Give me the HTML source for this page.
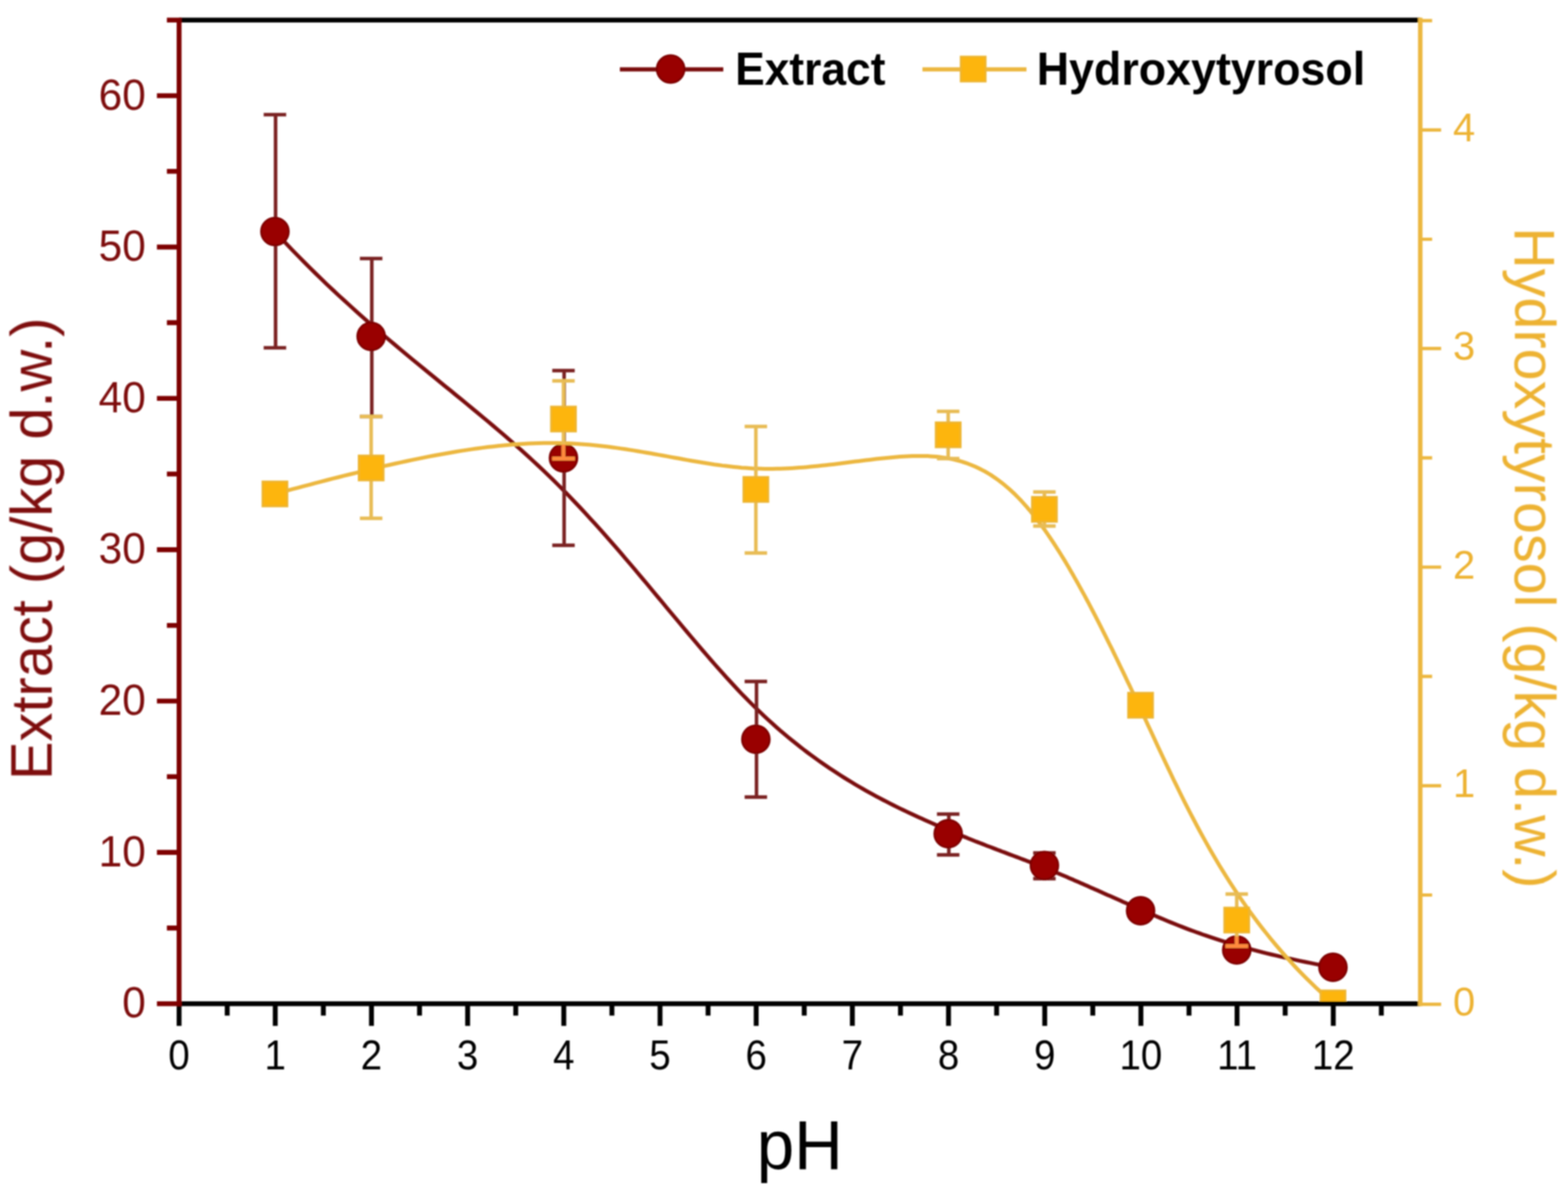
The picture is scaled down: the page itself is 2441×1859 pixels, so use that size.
<!DOCTYPE html><html><head><meta charset="utf-8"><title>pH chart</title><style>html,body{margin:0;padding:0;background:#fff;overflow:hidden}svg{display:block}text{font-family:"Liberation Sans",sans-serif}</style></head><body>
<svg width="2441" height="1859" viewBox="0 0 2441 1859">
<rect width="2441" height="1859" fill="#fff"/>
<defs><clipPath id="plot"><rect x="278.8" y="31.2" width="1932.2" height="1531.5"/></clipPath>
<filter id="soft" x="0" y="0" width="2441" height="1859" filterUnits="userSpaceOnUse"><feGaussianBlur stdDeviation="0.9"/></filter></defs>
<g filter="url(#soft)">
<g clip-path="url(#plot)">
<path d="M428.0,360.5 L437.0,370.2 L446.0,379.8 L455.0,389.3 L464.1,398.5 L473.1,407.7 L482.1,416.7 L491.1,425.5 L500.0,434.2 L509.0,442.8 L518.0,451.3 L526.9,459.6 L535.9,467.8 L544.8,475.9 L553.7,483.9 L562.6,491.9 L571.4,499.7 L580.3,507.4 L589.1,515.0 L597.9,522.5 L606.7,530.0 L615.5,537.4 L624.2,544.7 L632.9,552.0 L641.6,559.2 L650.2,566.3 L658.9,573.4 L667.4,580.4 L676.0,587.4 L684.5,594.4 L693.0,601.3 L701.5,608.2 L709.9,615.1 L718.3,621.9 L726.6,628.7 L734.9,635.6 L743.1,642.4 L751.3,649.2 L759.5,656.0 L767.6,662.9 L775.7,669.7 L783.7,676.6 L791.7,683.5 L799.6,690.4 L807.5,697.3 L815.3,704.3 L823.0,711.3 L830.7,718.4 L838.4,725.5 L846.0,732.6 L853.5,739.8 L861.0,747.1 L868.4,754.5 L875.8,761.9 L883.1,769.3 L890.3,776.8 L897.5,784.3 L904.6,791.9 L911.7,799.5 L918.7,807.2 L925.7,814.8 L932.7,822.5 L939.6,830.3 L946.4,838.0 L953.2,845.8 L960.0,853.5 L966.7,861.3 L973.3,869.1 L980.0,876.9 L986.6,884.6 L993.1,892.4 L999.7,900.2 L1006.2,907.9 L1012.6,915.6 L1019.0,923.3 L1025.4,931.0 L1031.8,938.7 L1038.1,946.3 L1044.4,953.9 L1050.7,961.4 L1057.0,968.9 L1063.2,976.4 L1069.4,983.8 L1075.6,991.1 L1081.8,998.4 L1087.9,1005.7 L1094.0,1012.8 L1100.2,1019.9 L1106.3,1027.0 L1112.3,1033.9 L1118.4,1040.8 L1124.5,1047.6 L1130.5,1054.3 L1136.6,1060.9 L1142.6,1067.4 L1148.6,1073.9 L1154.6,1080.2 L1160.7,1086.4 L1166.7,1092.5 L1172.7,1098.5 L1178.7,1104.4 L1184.7,1110.2 L1190.7,1115.9 L1196.7,1121.4 L1202.7,1126.8 L1208.7,1132.2 L1214.7,1137.4 L1220.7,1142.5 L1226.6,1147.5 L1232.6,1152.4 L1238.6,1157.2 L1244.5,1161.9 L1250.4,1166.5 L1256.3,1171.0 L1262.2,1175.4 L1268.1,1179.7 L1273.9,1183.9 L1279.8,1188.0 L1285.6,1192.0 L1291.4,1196.0 L1297.2,1199.8 L1302.9,1203.6 L1308.6,1207.3 L1314.3,1210.9 L1320.0,1214.4 L1325.6,1217.8 L1331.2,1221.2 L1336.8,1224.5 L1342.3,1227.7 L1347.8,1230.8 L1353.3,1233.9 L1358.8,1236.9 L1364.1,1239.8 L1369.5,1242.7 L1374.8,1245.5 L1380.1,1248.2 L1385.3,1250.9 L1390.5,1253.5 L1395.7,1256.1 L1400.8,1258.6 L1405.8,1261.0 L1410.8,1263.4 L1415.8,1265.7 L1420.7,1268.0 L1425.5,1270.3 L1430.3,1272.5 L1435.0,1274.6 L1439.7,1276.7 L1444.3,1278.7 L1448.9,1280.8 L1453.4,1282.7 L1457.9,1284.7 L1462.2,1286.6 L1466.6,1288.4 L1470.9,1290.2 L1475.1,1292.0 L1479.2,1293.8 L1483.4,1295.5 L1487.4,1297.2 L1491.4,1298.8 L1495.4,1300.5 L1499.3,1302.1 L1503.2,1303.6 L1507.0,1305.2 L1510.8,1306.7 L1514.5,1308.2 L1518.2,1309.7 L1521.9,1311.1 L1525.5,1312.5 L1529.1,1313.9 L1532.6,1315.3 L1536.1,1316.7 L1539.6,1318.0 L1543.1,1319.3 L1546.5,1320.6 L1549.8,1321.9 L1553.2,1323.2 L1556.5,1324.4 L1559.8,1325.7 L1563.1,1326.9 L1566.3,1328.1 L1569.5,1329.4 L1572.7,1330.6 L1575.9,1331.8 L1579.1,1333.0 L1582.2,1334.1 L1585.3,1335.3 L1588.4,1336.5 L1591.5,1337.7 L1594.6,1338.8 L1597.7,1340.0 L1600.7,1341.2 L1603.8,1342.3 L1606.8,1343.5 L1609.8,1344.7 L1612.8,1345.8 L1615.9,1347.0 L1618.9,1348.2 L1621.9,1349.4 L1624.9,1350.6 L1627.9,1351.8 L1630.9,1353.0 L1633.9,1354.2 L1636.9,1355.5 L1639.9,1356.7 L1642.9,1358.0 L1645.9,1359.2 L1649.0,1360.5 L1652.0,1361.8 L1655.0,1363.0 L1658.1,1364.3 L1661.1,1365.6 L1664.1,1366.9 L1667.2,1368.2 L1670.3,1369.6 L1673.3,1370.9 L1676.4,1372.2 L1679.5,1373.6 L1682.6,1374.9 L1685.7,1376.3 L1688.9,1377.7 L1692.0,1379.1 L1695.2,1380.5 L1698.3,1381.9 L1701.5,1383.3 L1704.7,1384.7 L1707.9,1386.1 L1711.1,1387.5 L1714.4,1389.0 L1717.6,1390.4 L1720.9,1391.9 L1724.2,1393.4 L1727.5,1394.8 L1730.9,1396.3 L1734.2,1397.8 L1737.6,1399.3 L1741.0,1400.8 L1744.4,1402.3 L1747.9,1403.9 L1751.4,1405.4 L1754.8,1407.0 L1758.4,1408.5 L1761.9,1410.1 L1765.5,1411.6 L1769.1,1413.2 L1772.7,1414.8 L1776.3,1416.4 L1780.0,1418.0 L1783.7,1419.6 L1787.4,1421.2 L1791.2,1422.9 L1795.0,1424.5 L1798.8,1426.1 L1802.7,1427.8 L1806.6,1429.4 L1810.6,1431.1 L1814.6,1432.8 L1818.7,1434.5 L1822.8,1436.1 L1826.9,1437.8 L1831.2,1439.5 L1835.5,1441.2 L1839.8,1442.9 L1844.2,1444.6 L1848.7,1446.4 L1853.3,1448.1 L1858.0,1449.8 L1862.7,1451.5 L1867.5,1453.2 L1872.4,1455.0 L1877.4,1456.7 L1882.5,1458.4 L1887.7,1460.1 L1893.0,1461.9 L1898.3,1463.6 L1903.8,1465.3 L1909.4,1467.1 L1915.1,1468.8 L1921.0,1470.5 L1926.9,1472.3 L1933.0,1474.0 L1939.2,1475.7 L1945.5,1477.4 L1951.9,1479.1 L1958.5,1480.9 L1965.2,1482.6 L1972.1,1484.3 L1979.0,1486.0 L1986.2,1487.7 L1993.5,1489.4 L2000.9,1491.1 L2008.5,1492.8 L2016.2,1494.4 L2024.1,1496.1 L2032.2,1497.8 L2040.4,1499.4 L2048.8,1501.1 L2057.4,1502.7 L2066.2,1504.4 L2075.1,1506.0" fill="none" stroke="#7A0A10" stroke-width="6.0"/>
<path d="M429.0,178.6 V541.4 M410.5,178.6 h35.0 M410.5,541.4 h35.0" stroke="#7A2424" stroke-width="5.5" fill="none"/>
<path d="M578.8,402.4 V648.6 M560.3,402.4 h35.0 M560.3,648.6 h35.0" stroke="#7A2424" stroke-width="5.5" fill="none"/>
<path d="M878.2,577 V849 M859.7,577 h35.0 M859.7,849 h35.0" stroke="#7A2424" stroke-width="5.5" fill="none"/>
<path d="M1177.7,1061 V1241 M1159.2,1061 h35.0 M1159.2,1241 h35.0" stroke="#7A2424" stroke-width="5.5" fill="none"/>
<path d="M1477.1,1267.6 V1331 M1458.6,1267.6 h35.0 M1458.6,1331 h35.0" stroke="#7A2424" stroke-width="5.5" fill="none"/>
<path d="M1626.9,1328 V1368 M1608.4,1328 h35.0 M1608.4,1368 h35.0" stroke="#7A2424" stroke-width="5.5" fill="none"/>
<circle cx="428.0" cy="360.5" r="21.5" fill="#990000" stroke="#7E0505" stroke-width="3"/>
<circle cx="577.8" cy="523.8" r="21.5" fill="#990000" stroke="#7E0505" stroke-width="3"/>
<circle cx="877.2" cy="712.9" r="21.5" fill="#990000" stroke="#7E0505" stroke-width="3"/>
<circle cx="1176.7" cy="1151" r="21.5" fill="#990000" stroke="#7E0505" stroke-width="3"/>
<circle cx="1476.1" cy="1298" r="21.5" fill="#990000" stroke="#7E0505" stroke-width="3"/>
<circle cx="1625.9" cy="1347.5" r="21.5" fill="#990000" stroke="#7E0505" stroke-width="3"/>
<circle cx="1775.6" cy="1418" r="21.5" fill="#990000" stroke="#7E0505" stroke-width="3"/>
<circle cx="1925.3" cy="1479" r="21.5" fill="#990000" stroke="#7E0505" stroke-width="3"/>
<circle cx="2075.1" cy="1506" r="21.5" fill="#990000" stroke="#7E0505" stroke-width="3"/>
<path d="M428.0,769.0 L437.0,766.6 L446.0,764.1 L455.0,761.7 L464.1,759.3 L473.1,756.9 L482.1,754.6 L491.1,752.2 L500.0,749.9 L509.0,747.5 L518.0,745.2 L526.9,743.0 L535.9,740.7 L544.8,738.5 L553.7,736.3 L562.6,734.1 L571.4,732.0 L580.3,729.8 L589.1,727.8 L597.9,725.7 L606.7,723.7 L615.5,721.8 L624.2,719.9 L632.9,718.0 L641.6,716.1 L650.2,714.4 L658.9,712.6 L667.4,710.9 L676.0,709.3 L684.5,707.7 L693.0,706.2 L701.5,704.7 L709.9,703.3 L718.3,701.9 L726.6,700.6 L734.9,699.4 L743.1,698.2 L751.3,697.1 L759.5,696.1 L767.6,695.2 L775.7,694.3 L783.7,693.5 L791.7,692.7 L799.6,692.1 L807.5,691.5 L815.3,691.0 L823.0,690.5 L830.7,690.2 L838.4,690.0 L846.0,689.8 L853.5,689.7 L861.0,689.7 L868.4,689.8 L875.8,690.0 L883.1,690.3 L890.3,690.6 L897.5,691.0 L904.6,691.5 L911.7,692.0 L918.7,692.6 L925.7,693.3 L932.7,694.0 L939.6,694.8 L946.4,695.6 L953.2,696.5 L960.0,697.4 L966.7,698.4 L973.3,699.3 L980.0,700.4 L986.6,701.4 L993.1,702.5 L999.7,703.6 L1006.2,704.7 L1012.6,705.8 L1019.0,707.0 L1025.4,708.1 L1031.8,709.3 L1038.1,710.4 L1044.4,711.6 L1050.7,712.7 L1057.0,713.8 L1063.2,715.0 L1069.4,716.1 L1075.6,717.2 L1081.8,718.3 L1087.9,719.3 L1094.0,720.3 L1100.2,721.3 L1106.3,722.2 L1112.3,723.2 L1118.4,724.0 L1124.5,724.9 L1130.5,725.6 L1136.6,726.3 L1142.6,727.0 L1148.6,727.6 L1154.6,728.2 L1160.7,728.6 L1166.7,729.0 L1172.7,729.4 L1178.7,729.6 L1184.7,729.8 L1190.7,729.9 L1196.7,730.0 L1202.7,729.9 L1208.7,729.8 L1214.7,729.7 L1220.7,729.5 L1226.6,729.2 L1232.6,728.9 L1238.6,728.5 L1244.5,728.1 L1250.4,727.7 L1256.3,727.2 L1262.2,726.6 L1268.1,726.1 L1273.9,725.5 L1279.8,724.8 L1285.6,724.2 L1291.4,723.5 L1297.2,722.9 L1302.9,722.2 L1308.6,721.5 L1314.3,720.8 L1320.0,720.0 L1325.6,719.3 L1331.2,718.6 L1336.8,717.9 L1342.3,717.2 L1347.8,716.5 L1353.3,715.9 L1358.8,715.2 L1364.1,714.6 L1369.5,714.0 L1374.8,713.4 L1380.1,712.9 L1385.3,712.4 L1390.5,711.9 L1395.7,711.5 L1400.8,711.1 L1405.8,710.7 L1410.8,710.5 L1415.8,710.2 L1420.7,710.0 L1425.5,709.9 L1430.3,709.9 L1435.0,709.9 L1439.7,710.0 L1444.3,710.1 L1448.9,710.4 L1453.4,710.7 L1457.9,711.1 L1462.2,711.5 L1466.6,712.1 L1470.9,712.7 L1475.1,713.4 L1479.2,714.2 L1483.4,715.1 L1487.4,716.1 L1491.4,717.1 L1495.4,718.2 L1499.3,719.4 L1503.2,720.7 L1507.0,722.0 L1510.8,723.5 L1514.5,725.0 L1518.2,726.6 L1521.9,728.3 L1525.5,730.0 L1529.1,731.8 L1532.6,733.7 L1536.1,735.7 L1539.6,737.8 L1543.1,739.9 L1546.5,742.2 L1549.8,744.5 L1553.2,746.9 L1556.5,749.3 L1559.8,751.9 L1563.1,754.5 L1566.3,757.2 L1569.5,759.9 L1572.7,762.8 L1575.9,765.7 L1579.1,768.7 L1582.2,771.8 L1585.3,775.0 L1588.4,778.2 L1591.5,781.5 L1594.6,784.9 L1597.7,788.4 L1600.7,792.0 L1603.8,795.6 L1606.8,799.3 L1609.8,803.1 L1612.8,806.9 L1615.9,810.8 L1618.9,814.9 L1621.9,818.9 L1624.9,823.1 L1627.9,827.3 L1630.9,831.6 L1633.9,836.0 L1636.9,840.5 L1639.9,845.0 L1642.9,849.7 L1645.9,854.4 L1649.0,859.1 L1652.0,864.0 L1655.0,868.9 L1658.1,873.9 L1661.1,879.0 L1664.1,884.1 L1667.2,889.4 L1670.3,894.7 L1673.3,900.1 L1676.4,905.5 L1679.5,911.1 L1682.6,916.7 L1685.7,922.4 L1688.9,928.1 L1692.0,934.0 L1695.2,939.9 L1698.3,945.9 L1701.5,952.0 L1704.7,958.2 L1707.9,964.4 L1711.1,970.7 L1714.4,977.1 L1717.6,983.6 L1720.9,990.1 L1724.2,996.8 L1727.5,1003.5 L1730.9,1010.2 L1734.2,1017.1 L1737.6,1024.0 L1741.0,1031.1 L1744.4,1038.2 L1747.9,1045.3 L1751.4,1052.6 L1754.8,1059.9 L1758.4,1067.3 L1761.9,1074.8 L1765.5,1082.4 L1769.1,1090.0 L1772.7,1097.8 L1776.3,1105.6 L1780.0,1113.4 L1783.7,1121.4 L1787.4,1129.4 L1791.2,1137.6 L1795.0,1145.8 L1798.8,1154.0 L1802.7,1162.4 L1806.6,1170.8 L1810.6,1179.2 L1814.6,1187.8 L1818.7,1196.4 L1822.8,1205.0 L1826.9,1213.7 L1831.2,1222.4 L1835.5,1231.2 L1839.8,1240.0 L1844.2,1248.8 L1848.7,1257.7 L1853.3,1266.6 L1858.0,1275.5 L1862.7,1284.5 L1867.5,1293.5 L1872.4,1302.4 L1877.4,1311.4 L1882.5,1320.4 L1887.7,1329.4 L1893.0,1338.4 L1898.3,1347.4 L1903.8,1356.4 L1909.4,1365.4 L1915.1,1374.4 L1921.0,1383.4 L1926.9,1392.3 L1933.0,1401.2 L1939.2,1410.1 L1945.5,1418.9 L1951.9,1427.8 L1958.5,1436.6 L1965.2,1445.3 L1972.1,1454.0 L1979.0,1462.6 L1986.2,1471.2 L1993.5,1479.8 L2000.9,1488.3 L2008.5,1496.7 L2016.2,1505.1 L2024.1,1513.4 L2032.2,1521.6 L2040.4,1529.7 L2048.8,1537.8 L2057.4,1545.8 L2066.2,1553.7 L2075.1,1561.5" fill="none" stroke="#ECB740" stroke-width="6.0"/>
<path d="M577.8,648.6 V807 M560.3,648.6 h35.0 M560.3,807 h35.0" stroke="#E8BC55" stroke-width="5.5" fill="none"/>
<path d="M877.2,593 V714 M859.7,593 h35.0 M859.7,714 h35.0" stroke="#E8BC55" stroke-width="5.5" fill="none"/>
<path d="M1176.7,664 V861 M1159.2,664 h35.0 M1159.2,861 h35.0" stroke="#E8BC55" stroke-width="5.5" fill="none"/>
<path d="M1476.1,640.5 V714 M1458.6,640.5 h35.0 M1458.6,714 h35.0" stroke="#E8BC55" stroke-width="5.5" fill="none"/>
<path d="M1625.9,766 V819 M1608.4,766 h35.0 M1608.4,819 h35.0" stroke="#E8BC55" stroke-width="5.5" fill="none"/>
<path d="M1925.3,1392 V1473 M1907.8,1392 h35.0 M1907.8,1473 h35.0" stroke="#E8BC55" stroke-width="5.5" fill="none"/>
<rect x="408.7" y="749.7" width="38.6" height="38.6" fill="#FDB50A" stroke="#EDB530" stroke-width="3"/>
<rect x="558.5" y="709.3" width="38.6" height="38.6" fill="#FDB50A" stroke="#EDB530" stroke-width="3"/>
<rect x="857.9" y="633.1" width="38.6" height="38.6" fill="#FDB50A" stroke="#EDB530" stroke-width="3"/>
<rect x="1157.4" y="742.7" width="38.6" height="38.6" fill="#FDB50A" stroke="#EDB530" stroke-width="3"/>
<rect x="1456.8" y="657.7" width="38.6" height="38.6" fill="#FDB50A" stroke="#EDB530" stroke-width="3"/>
<rect x="1606.6" y="773.7" width="38.6" height="38.6" fill="#FDB50A" stroke="#EDB530" stroke-width="3"/>
<rect x="1756.3" y="1078.7" width="38.6" height="38.6" fill="#FDB50A" stroke="#EDB530" stroke-width="3"/>
<rect x="1906.0" y="1413.2" width="38.6" height="38.6" fill="#FDB50A" stroke="#EDB530" stroke-width="3"/>
<rect x="2055.8" y="1542.2" width="38.6" height="38.6" fill="#FDB50A" stroke="#EDB530" stroke-width="3"/>
<path d="M877.2,691.9 V714 M859.7,714 h35.0" stroke="#FF8A3C" stroke-width="5.5" fill="none"/>
<path d="M1925.3,1458 V1473 M1907.8,1473 h35.0" stroke="#FF8A3C" stroke-width="5.5" fill="none"/>
</g>
<g stroke="#000" stroke-width="7.6" fill="none">
<path d="M278.8,31.2 H2211.0 M278.8,1562.7 H2211.0"/>
<path d="M278.8,1562.7 v34.5 M353.7,1562.7 v18.5 M428.5,1562.7 v34.5 M503.4,1562.7 v18.5 M578.3,1562.7 v34.5 M653.1,1562.7 v18.5 M728.0,1562.7 v34.5 M802.9,1562.7 v18.5 M877.7,1562.7 v34.5 M952.6,1562.7 v18.5 M1027.5,1562.7 v34.5 M1102.3,1562.7 v18.5 M1177.2,1562.7 v34.5 M1252.0,1562.7 v18.5 M1326.9,1562.7 v34.5 M1401.8,1562.7 v18.5 M1476.6,1562.7 v34.5 M1551.5,1562.7 v18.5 M1626.4,1562.7 v34.5 M1701.2,1562.7 v18.5 M1776.1,1562.7 v34.5 M1851.0,1562.7 v18.5 M1925.8,1562.7 v34.5 M2000.7,1562.7 v18.5 M2075.6,1562.7 v34.5 M2150.4,1562.7 v18.5 "/>
</g>
<g stroke="#7E0505" stroke-width="7.6" fill="none">
<path d="M278.8,27.4 V1566.5 M278.8,1562.7 h-34.5 M278.8,1444.9 h-19 M278.8,1327.1 h-34.5 M278.8,1209.3 h-19 M278.8,1091.5 h-34.5 M278.8,973.7 h-19 M278.8,855.9 h-34.5 M278.8,738.0 h-19 M278.8,620.2 h-34.5 M278.8,502.4 h-19 M278.8,384.6 h-34.5 M278.8,266.8 h-19 M278.8,149.0 h-34.5 M278.8,31.2 h-19 "/></g>
<g stroke="#ECB740" fill="none">
<path d="M2211.0,27.4 V1566.5" stroke-width="7"/>
<path d="M2211.0,1563.7 h32.5 M2211.0,1393.5 h18.5 M2211.0,1223.4 h32.5 M2211.0,1053.2 h18.5 M2211.0,883.0 h32.5 M2211.0,712.9 h18.5 M2211.0,542.7 h32.5 M2211.0,372.5 h18.5 M2211.0,202.4 h32.5 M2211.0,32.2 h18.5 " stroke-width="5.2"/></g>
<text transform="translate(278.8,1664.5) scale(1.0,1.08)" font-size="60" text-anchor="middle" fill="#000" stroke="#fff" stroke-width="0">0</text>
<text transform="translate(428.5,1664.5) scale(1.0,1.08)" font-size="60" text-anchor="middle" fill="#000" stroke="#fff" stroke-width="0">1</text>
<text transform="translate(578.3,1664.5) scale(1.0,1.08)" font-size="60" text-anchor="middle" fill="#000" stroke="#fff" stroke-width="0">2</text>
<text transform="translate(728.0,1664.5) scale(1.0,1.08)" font-size="60" text-anchor="middle" fill="#000" stroke="#fff" stroke-width="0">3</text>
<text transform="translate(877.7,1664.5) scale(1.0,1.08)" font-size="60" text-anchor="middle" fill="#000" stroke="#fff" stroke-width="0">4</text>
<text transform="translate(1027.5,1664.5) scale(1.0,1.08)" font-size="60" text-anchor="middle" fill="#000" stroke="#fff" stroke-width="0">5</text>
<text transform="translate(1177.2,1664.5) scale(1.0,1.08)" font-size="60" text-anchor="middle" fill="#000" stroke="#fff" stroke-width="0">6</text>
<text transform="translate(1326.9,1664.5) scale(1.0,1.08)" font-size="60" text-anchor="middle" fill="#000" stroke="#fff" stroke-width="0">7</text>
<text transform="translate(1476.6,1664.5) scale(1.0,1.08)" font-size="60" text-anchor="middle" fill="#000" stroke="#fff" stroke-width="0">8</text>
<text transform="translate(1626.4,1664.5) scale(1.0,1.08)" font-size="60" text-anchor="middle" fill="#000" stroke="#fff" stroke-width="0">9</text>
<text transform="translate(1776.1,1664.5) scale(1.0,1.08)" font-size="60" text-anchor="middle" fill="#000" stroke="#fff" stroke-width="0">10</text>
<text transform="translate(1925.8,1664.5) scale(1.0,1.08)" font-size="60" text-anchor="middle" fill="#000" stroke="#fff" stroke-width="0">11</text>
<text transform="translate(2075.6,1664.5) scale(1.0,1.08)" font-size="60" text-anchor="middle" fill="#000" stroke="#fff" stroke-width="0">12</text>
<text transform="translate(227.0,1584.2) scale(1.0,1.04)" font-size="66" text-anchor="end" fill="#7E0E0E" stroke="#fff" stroke-width="0">0</text>
<text transform="translate(227.0,1348.6) scale(1.0,1.04)" font-size="66" text-anchor="end" fill="#7E0E0E" stroke="#fff" stroke-width="0">10</text>
<text transform="translate(227.0,1113.0) scale(1.0,1.04)" font-size="66" text-anchor="end" fill="#7E0E0E" stroke="#fff" stroke-width="0">20</text>
<text transform="translate(227.0,877.4) scale(1.0,1.04)" font-size="66" text-anchor="end" fill="#7E0E0E" stroke="#fff" stroke-width="0">30</text>
<text transform="translate(227.0,641.7) scale(1.0,1.04)" font-size="66" text-anchor="end" fill="#7E0E0E" stroke="#fff" stroke-width="0">40</text>
<text transform="translate(227.0,406.1) scale(1.0,1.04)" font-size="66" text-anchor="end" fill="#7E0E0E" stroke="#fff" stroke-width="0">50</text>
<text transform="translate(227.0,170.5) scale(1.0,1.04)" font-size="66" text-anchor="end" fill="#7E0E0E" stroke="#fff" stroke-width="0">60</text>
<text transform="translate(2262.0,1581.2) scale(1.0,1.03)" font-size="62" text-anchor="start" fill="#EDB233" stroke="#fff" stroke-width="0">0</text>
<text transform="translate(2262.0,1240.9) scale(1.0,1.03)" font-size="62" text-anchor="start" fill="#EDB233" stroke="#fff" stroke-width="0">1</text>
<text transform="translate(2262.0,900.5) scale(1.0,1.03)" font-size="62" text-anchor="start" fill="#EDB233" stroke="#fff" stroke-width="0">2</text>
<text transform="translate(2262.0,560.2) scale(1.0,1.03)" font-size="62" text-anchor="start" fill="#EDB233" stroke="#fff" stroke-width="0">3</text>
<text transform="translate(2262.0,219.9) scale(1.0,1.03)" font-size="62" text-anchor="start" fill="#EDB233" stroke="#fff" stroke-width="0">4</text>
<text transform="translate(1245.0,1820.0) scale(1.0,1.02)" font-size="105" text-anchor="middle" fill="#000" stroke="#fff" stroke-width="0">pH</text>
<text transform="translate(80.5,854.5) rotate(-90)" font-size="90" text-anchor="middle" fill="#7E0E0E" stroke="#fff" stroke-width="0">Extract (g/kg d.w.)</text>
<text transform="translate(2358.3,868.5) rotate(90)" font-size="89.5" text-anchor="middle" fill="#EDB233" stroke="#fff" stroke-width="0">Hydroxytyrosol (g/kg d.w.)</text>
<path d="M965,108 H1126" stroke="#7A0A10" stroke-width="6.5"/><circle cx="1044" cy="107.5" r="21.5" fill="#990000" stroke="#7E0505" stroke-width="3"/>
<text transform="translate(1144.5,131.7) scale(1.0,1.04)" font-size="69" text-anchor="start" fill="#000" stroke="#fff" stroke-width="0" font-weight="bold">Extract</text>
<path d="M1436,108 H1598" stroke="#ECB740" stroke-width="6.5"/><rect x="1495.7" y="88.2" width="38.6" height="38.6" fill="#FDB50A" stroke="#EDB530" stroke-width="3"/>
<text transform="translate(1614.0,131.7) scale(1.0,1.03)" font-size="69.7" text-anchor="start" fill="#000" stroke="#fff" stroke-width="0" font-weight="bold">Hydroxytyrosol</text>
</g>
</svg></body></html>
